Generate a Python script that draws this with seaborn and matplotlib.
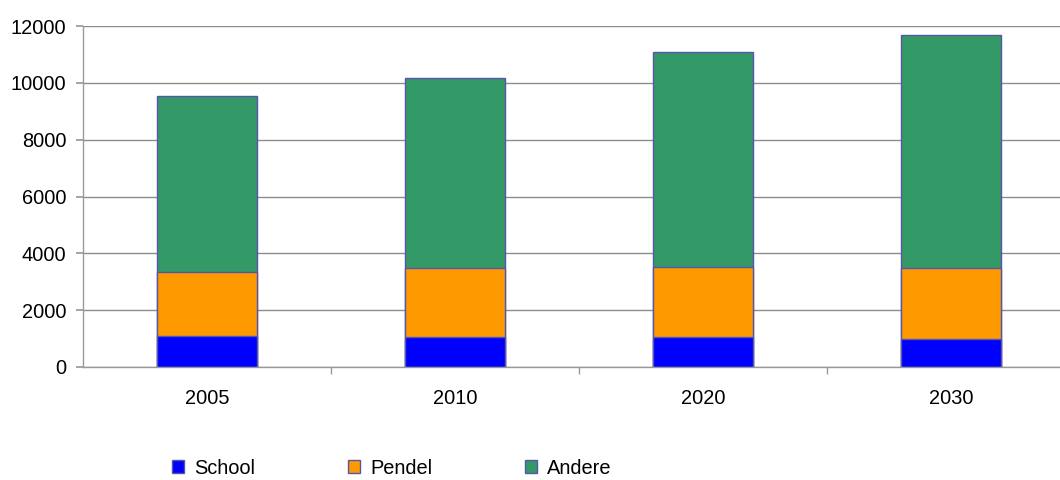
import matplotlib
matplotlib.use("Agg")
import matplotlib.pyplot as plt
import seaborn as sns
import pandas as pd
import numpy as np
from matplotlib.patches import Patch

years = ["2005", "2010", "2020", "2030"]
school = [1080, 1040, 1040, 980]
pendel = [2270, 2430, 2490, 2490]
andere = [6170, 6710, 7550, 8230]
series_names = ["School", "Pendel", "Andere"]
colors = ["#0000FF", "#FF9900", "#339966"]
y_ticks = [0, 2000, 4000, 6000, 8000, 10000, 12000]

sns.set_theme(style="white")
plt.rcParams["font.family"] = ["Liberation Sans", "DejaVu Sans"]
FS = 14.4

df = pd.DataFrame({"year": years, "School": school, "Pendel": pendel, "Andere": andere})
df["c_school"] = df["School"]
df["c_pendel"] = df["School"] + df["Pendel"]
df["c_andere"] = df["c_pendel"] + df["Andere"]

fig = plt.figure(figsize=(10.6, 4.8), dpi=100)
ax = fig.add_axes([83/1060, 113/480, 992/1060, 341/480])

edge = "#5555AA"
for col, c in zip(["c_andere", "c_pendel", "c_school"], colors[::-1]):
    sns.barplot(data=df, x="year", y=col, color=c, width=0.4, ax=ax,
                edgecolor=edge, linewidth=1.0, saturation=1)

ax.set_xlim(-0.5, 3.5)
ax.set_ylim(0, 12000)
ax.set_yticks(y_ticks)
ax.set_yticklabels([str(v) for v in y_ticks], fontsize=FS, color="#000000")
ax.set_xlabel("")
ax.set_ylabel("")
ax.yaxis.grid(True, color="#8C8C8C", linewidth=1.0)
ax.set_axisbelow(True)
for s in ["top", "right"]:
    ax.spines[s].set_visible(False)
for s in ["left", "bottom"]:
    ax.spines[s].set_color("#999999")
    ax.spines[s].set_linewidth(1.0)

ax.tick_params(axis="y", which="major", length=5, color="#999999", direction="out", pad=7, left=True)
ax.set_xticks(range(4))
ax.set_xticklabels(years, fontsize=FS, color="#000000")
ax.tick_params(axis="x", which="major", length=0, pad=16)
ax.set_xticks([0.5, 1.5, 2.5], minor=True)
ax.tick_params(axis="x", which="minor", length=5, color="#999999", direction="out", bottom=True)

handles = [Patch(facecolor=c, edgecolor=edge, linewidth=1.0) for c in colors]
fig.legend(handles, series_names, loc="center left", bbox_to_anchor=(172/1060, 12/480),
           ncol=3, frameon=False, fontsize=FS, handlelength=0.6, handleheight=0.6,
           handletextpad=0.5, columnspacing=4.65, borderaxespad=0, borderpad=0,
           labelcolor="#000000")

fig.savefig("out.png", dpi=100)
